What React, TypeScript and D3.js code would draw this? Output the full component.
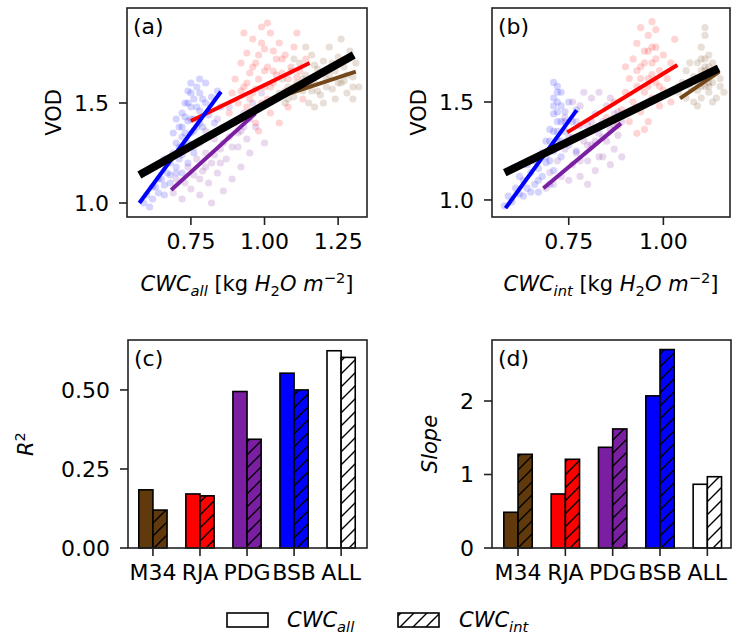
import React from 'react';
import * as d3 from 'd3';

type Pt = [number, number];

// ---------- data ----------
const sites = ['M34', 'RJA', 'PDG', 'BSB', 'ALL'];
const siteColors = ['#603a0c', '#ff0000', '#7b1fa2', '#0000ff', '#ffffff'];
const lineColors = ['#74481a', '#ff0000', '#7b1fa2', '#0000ff'];

const r2All = [0.184, 0.171, 0.495, 0.553, 0.624];
const r2Int = [0.12, 0.165, 0.344, 0.5, 0.603];
const slopeAll = [0.486, 0.735, 1.37, 2.07, 0.867];
const slopeInt = [1.275, 1.207, 1.62, 2.7, 0.97];

const vodTicks = [1.0, 1.5];
const cwcAllTicks = [0.75, 1.0, 1.25];
const cwcIntTicks = [0.75, 1.0];
const r2Ticks = [0, 0.25, 0.5];
const slopeTicks = [0, 1, 2];

// scatter clouds, panel (a): CWC_all vs VOD
const aM34: Pt[] = [[1.05,1.55],[1.06,1.62],[1.07,1.50],[1.08,1.58],[1.09,1.66],[1.10,1.53],[1.11,1.60],[1.12,1.70],[1.13,1.56],[1.14,1.64],[1.15,1.50],[1.16,1.74],[1.17,1.60],[1.18,1.67],[1.19,1.54],[1.20,1.71],[1.21,1.62],[1.22,1.78],[1.23,1.57],[1.24,1.66],[1.25,1.73],[1.26,1.60],[1.27,1.68],[1.28,1.55],[1.29,1.76],[1.30,1.63],[1.31,1.70],[1.32,1.58],[1.20,1.50],[1.26,1.82],[1.14,1.78],[1.10,1.72],[1.24,1.52],[1.17,1.48],[1.30,1.52],[1.08,1.52],[1.12,1.58],[1.16,1.56],[1.21,1.58],[1.27,1.61],[1.15,1.60],[1.18,1.56],[1.22,1.64],[1.25,1.60],[1.19,1.65],[1.23,1.70],[1.28,1.64],[1.13,1.62],[1.17,1.69],[1.30,1.58]];
const aRJA: Pt[] = [[0.88,1.45],[0.89,1.55],[0.90,1.62],[0.91,1.50],[0.92,1.70],[0.92,1.42],[0.93,1.58],[0.94,1.75],[0.94,1.48],[0.95,1.65],[0.96,1.82],[0.96,1.55],[0.97,1.40],[0.97,1.70],[0.98,1.62],[0.99,1.88],[0.99,1.50],[1.00,1.77],[1.00,1.58],[1.01,1.68],[1.02,1.45],[1.02,1.85],[1.03,1.60],[1.04,1.72],[1.04,1.52],[1.05,1.80],[1.06,1.65],[1.07,1.56],[1.07,1.74],[1.08,1.48],[1.09,1.68],[1.10,1.78],[1.10,1.58],[1.12,1.66],[1.13,1.52],[1.14,1.72],[1.15,1.60],[1.05,1.40],[0.98,1.36],[1.01,1.90],[0.93,1.85],[1.11,1.85],[0.95,1.52],[1.03,1.66],[0.96,1.68],[0.98,1.74],[1.00,1.66],[1.02,1.58],[1.04,1.64],[0.94,1.60],[0.97,1.57],[1.01,1.52],[1.06,1.72],[1.08,1.62],[0.99,1.80],[1.03,1.76],[0.92,1.56],[1.11,1.63]];
const aPDG: Pt[] = [[0.69,1.05],[0.70,1.12],[0.72,1.02],[0.73,1.10],[0.74,1.18],[0.75,1.07],[0.76,1.14],[0.77,1.22],[0.78,1.04],[0.78,1.30],[0.79,1.16],[0.80,1.25],[0.81,1.10],[0.82,1.20],[0.83,1.32],[0.84,1.15],[0.85,1.27],[0.86,1.38],[0.87,1.22],[0.88,1.33],[0.89,1.12],[0.90,1.40],[0.91,1.28],[0.92,1.36],[0.93,1.45],[0.94,1.32],[0.95,1.42],[0.96,1.50],[0.97,1.38],[0.98,1.47],[0.99,1.55],[0.86,1.06],[0.80,1.36],[0.84,1.42],[0.92,1.18],[0.95,1.25],[0.88,1.48],[0.76,1.28],[0.82,1.00],[1.00,1.30],[0.80,1.18],[0.83,1.24],[0.86,1.30],[0.89,1.28],[0.78,1.12],[0.91,1.35],[0.85,1.20],[0.93,1.38]];
const aBSB: Pt[] = [[0.59,1.00],[0.60,1.04],[0.62,1.02],[0.63,1.08],[0.64,1.05],[0.65,1.12],[0.66,1.09],[0.67,1.15],[0.68,1.10],[0.68,1.20],[0.69,1.25],[0.70,1.18],[0.70,1.30],[0.71,1.38],[0.71,1.22],[0.72,1.45],[0.72,1.33],[0.73,1.27],[0.73,1.50],[0.74,1.41],[0.74,1.56],[0.75,1.35],[0.75,1.48],[0.76,1.52],[0.76,1.42],[0.77,1.58],[0.77,1.30],[0.78,1.46],[0.78,1.55],[0.79,1.38],[0.80,1.50],[0.80,1.60],[0.81,1.44],[0.82,1.53],[0.83,1.40],[0.84,1.56],[0.85,1.48],[0.74,1.20],[0.76,1.25],[0.72,1.15],[0.69,1.35],[0.70,1.42],[0.66,1.22],[0.78,1.62],[0.75,1.60],[0.71,1.28],[0.72,1.38],[0.73,1.43],[0.74,1.30],[0.75,1.42],[0.76,1.36],[0.77,1.48],[0.78,1.40],[0.79,1.52],[0.73,1.35],[0.75,1.55],[0.77,1.38],[0.74,1.50],[0.72,1.24],[0.70,1.15],[0.68,1.14],[0.66,1.04],[0.64,1.12],[0.62,1.08],[0.61,0.98]];

// scatter clouds, panel (b): CWC_int vs VOD
const bM34: Pt[] = [[1.04,1.55],[1.05,1.60],[1.06,1.52],[1.06,1.66],[1.07,1.58],[1.08,1.50],[1.08,1.63],[1.09,1.70],[1.09,1.56],[1.10,1.78],[1.10,1.62],[1.10,1.52],[1.11,1.84],[1.11,1.68],[1.11,1.58],[1.12,1.74],[1.12,1.55],[1.12,1.64],[1.13,1.60],[1.13,1.70],[1.14,1.52],[1.14,1.66],[1.15,1.58],[1.15,1.62],[1.16,1.55],[1.11,1.88],[1.07,1.70],[1.13,1.50],[1.09,1.48],[1.10,1.72],[1.11,1.62],[1.12,1.58],[1.10,1.58],[1.11,1.66],[1.12,1.60],[1.10,1.66],[1.11,1.72],[1.13,1.64],[1.09,1.60],[1.12,1.68]];
const bRJA: Pt[] = [[0.85,1.42],[0.87,1.50],[0.88,1.38],[0.89,1.46],[0.90,1.55],[0.91,1.40],[0.91,1.62],[0.92,1.50],[0.92,1.72],[0.93,1.58],[0.93,1.80],[0.94,1.45],[0.94,1.68],[0.94,1.88],[0.95,1.55],[0.95,1.76],[0.96,1.62],[0.96,1.84],[0.96,1.40],[0.97,1.70],[0.97,1.52],[0.97,1.91],[0.98,1.60],[0.98,1.78],[0.99,1.48],[0.99,1.66],[1.00,1.56],[1.00,1.74],[1.01,1.62],[1.02,1.50],[1.02,1.70],[1.03,1.82],[1.04,1.58],[0.95,1.36],[0.93,1.34],[0.98,1.87],[0.90,1.68],[0.94,1.62],[0.95,1.70],[0.96,1.58],[0.97,1.64],[0.98,1.72],[0.95,1.48],[0.97,1.78],[0.93,1.66],[0.96,1.76],[0.99,1.58]];
const bPDG: Pt[] = [[0.69,1.06],[0.70,1.14],[0.71,1.08],[0.72,1.20],[0.73,1.12],[0.74,1.26],[0.75,1.10],[0.75,1.32],[0.76,1.18],[0.77,1.40],[0.77,1.24],[0.78,1.12],[0.78,1.48],[0.79,1.30],[0.80,1.20],[0.80,1.38],[0.81,1.52],[0.81,1.28],[0.82,1.15],[0.82,1.44],[0.83,1.34],[0.83,1.55],[0.84,1.22],[0.84,1.40],[0.85,1.48],[0.85,1.30],[0.86,1.18],[0.86,1.52],[0.87,1.38],[0.87,1.26],[0.88,1.45],[0.88,1.33],[0.89,1.40],[0.89,1.22],[0.80,1.08],[0.74,1.42],[0.76,1.50],[0.79,1.55],[0.80,1.28],[0.82,1.30],[0.84,1.32],[0.86,1.36],[0.83,1.22],[0.81,1.40],[0.78,1.20],[0.87,1.44]];
const bBSB: Pt[] = [[0.58,0.97],[0.59,1.02],[0.60,0.99],[0.61,1.06],[0.62,1.03],[0.63,1.10],[0.64,1.06],[0.65,1.14],[0.66,1.08],[0.66,1.20],[0.67,1.16],[0.68,1.24],[0.68,1.12],[0.69,1.30],[0.69,1.19],[0.70,1.36],[0.70,1.25],[0.71,1.44],[0.71,1.15],[0.71,1.52],[0.72,1.30],[0.72,1.58],[0.72,1.40],[0.73,1.48],[0.73,1.22],[0.73,1.55],[0.74,1.35],[0.74,1.45],[0.75,1.28],[0.75,1.50],[0.76,1.40],[0.76,1.32],[0.77,1.46],[0.77,1.25],[0.78,1.38],[0.64,1.18],[0.62,1.12],[0.67,1.04],[0.70,1.08],[0.72,1.50],[0.71,1.60],[0.71,1.35],[0.72,1.45],[0.72,1.35],[0.71,1.25],[0.73,1.40],[0.70,1.20],[0.72,1.55],[0.71,1.48],[0.73,1.30],[0.70,1.30],[0.74,1.40],[0.69,1.22],[0.67,1.10],[0.65,1.04],[0.63,1.02]];

// regression line end points [x0, y0, x1, y1]
const aFitM34 = [1.03, 1.521, 1.31, 1.657];
const aFitRJA = [0.75, 1.41, 1.153, 1.70];
const aFitPDG = [0.683, 1.065, 0.969, 1.448];
const aFitBSB = [0.575, 1.0, 0.852, 1.556];
const aFitALL = [0.575, 1.14, 1.303, 1.74];

const bFitM34 = [1.044, 1.519, 1.148, 1.655];
const bFitRJA = [0.746, 1.345, 1.037, 1.689];
const bFitPDG = [0.683, 1.06, 0.888, 1.391];
const bFitBSB = [0.583, 0.958, 0.771, 1.459];
const bFitALL = [0.581, 1.139, 1.146, 1.672];

// ---------- drawing helpers ----------
const FONT = 'DejaVu Sans, sans-serif';
const TICK = 22;
const LAB = 21;

type Part = { t: string; it?: boolean; pos?: 'sub' | 'sup' };

function Rich({ x, y, parts, size, anchor = 'middle', rotate = false }:
  { x: number; y: number; parts: Part[]; size: number; anchor?: string; rotate?: boolean }) {
  let cur = 0;
  const spans = parts.map((p, i) => {
    const target = p.pos === 'sub' ? size * 0.22 : p.pos === 'sup' ? -size * 0.4 : 0;
    const dy = target - cur;
    cur = target;
    return (
      <tspan key={i} dy={dy} fontStyle={p.it ? 'italic' : 'normal'} fontSize={p.pos ? size * 0.7 : size}>
        {p.t}
      </tspan>
    );
  });
  return (
    <text x={x} y={y} textAnchor={anchor as any} fontFamily={FONT} fontSize={size} fill="#000"
      style={{ whiteSpace: 'pre' }} transform={rotate ? `rotate(-90 ${x} ${y})` : undefined}>
      {spans}
    </text>
  );
}

interface Box { left: number; right: number; top: number; bottom: number }

function Frame({ b }: { b: Box }) {
  return <rect x={b.left} y={b.top} width={b.right - b.left} height={b.bottom - b.top}
    fill="none" stroke="#222" strokeWidth={1.6} />;
}

function YTicks({ b, y, ticks, fmt }: { b: Box; y: d3.ScaleLinear<number, number>; ticks: number[]; fmt: (v: number) => string }) {
  return (
    <g>
      {ticks.map((t, i) => (
        <g key={i}>
          <line x1={b.left - 8} x2={b.left} y1={y(t)} y2={y(t)} stroke="#222" strokeWidth={1.6} />
          <text x={b.left - 18} y={y(t)} dy="0.36em" textAnchor="end" fontFamily={FONT} fontSize={TICK}>{fmt(t)}</text>
        </g>
      ))}
    </g>
  );
}

function XTicks({ b, x, ticks, labels }: { b: Box; x: (v: number) => number; ticks: number[]; labels: string[] }) {
  return (
    <g>
      {ticks.map((t, i) => (
        <g key={i}>
          <line x1={x(t)} x2={x(t)} y1={b.bottom} y2={b.bottom + 8} stroke="#222" strokeWidth={1.6} />
          <text x={x(t)} y={b.bottom + 32} textAnchor="middle" fontFamily={FONT} fontSize={TICK}>{labels[i]}</text>
        </g>
      ))}
    </g>
  );
}

function ScatterPanel({ b, xDom, yDom, clouds, fits, xTicks, letter, sub }:
  { b: Box; xDom: number[]; yDom: number[]; clouds: Pt[][]; fits: number[][]; xTicks: number[]; letter: string; sub: string }) {
  const x = d3.scaleLinear().domain(xDom).range([b.left, b.right]);
  const y = d3.scaleLinear().domain(yDom).range([b.bottom, b.top]);
  const line = d3.line<Pt>().x(d => x(d[0])).y(d => y(d[1]));
  const clipId = 'clip' + letter;
  return (
    <g>
      <defs>
        <clipPath id={clipId}><rect x={b.left} y={b.top} width={b.right - b.left} height={b.bottom - b.top} /></clipPath>
      </defs>
      <g clipPath={`url(#${clipId})`}>
        {clouds.map((c, ci) => (
          <g key={ci} fill={lineColors[ci]} fillOpacity={0.17}>
            {c.map((p, pi) => <circle key={pi} cx={x(p[0])} cy={y(p[1])} r={3.6} />)}
          </g>
        ))}
        {fits.map((f, fi) => (
          <path key={fi} d={line([[f[0], f[1]], [f[2], f[3]]]) || ''} fill="none"
            stroke={fi < 4 ? lineColors[fi] : '#000'} strokeWidth={fi < 4 ? 4 : 8} strokeLinecap="butt" />
        ))}
      </g>
      <Frame b={b} />
      <YTicks b={b} y={y} ticks={vodTicks} fmt={d3.format('.1f')} />
      <XTicks b={b} x={x} ticks={xTicks} labels={xTicks.map(d3.format('.2f'))} />
      <text x={b.left + 6} y={b.top + 26} fontFamily={FONT} fontSize={TICK}>({letter})</text>
      <Rich x={b.left - 66} y={(b.top + b.bottom) / 2} rotate size={LAB} parts={[{ t: 'VOD' }]} />
      <Rich x={(b.left + b.right) / 2} y={b.bottom + 74} size={LAB} parts={[
        { t: 'CWC', it: true }, { t: sub, it: true, pos: 'sub' }, { t: ' [kg ' },
        { t: 'H', it: true }, { t: '2', pos: 'sub' }, { t: 'O', it: true }, { t: ' ' },
        { t: 'm', it: true }, { t: '\u22122', pos: 'sup' }, { t: ']' },
      ]} />
    </g>
  );
}

function BarPanel({ b, xDom, yDom, valsAll, valsInt, yTicks, fmt, letter, ylabel, ylabelX }:
  { b: Box; xDom: number[]; yDom: number[]; valsAll: number[]; valsInt: number[]; yTicks: number[]; fmt: (v: number) => string; letter: string; ylabel: Part[]; ylabelX: number }) {
  const x = d3.scaleLinear().domain(xDom).range([b.left, b.right]);
  const y = d3.scaleLinear().domain(yDom).range([b.bottom, b.top]);
  const w = 0.3;
  const idx = sites.map((_, i) => i);
  return (
    <g>
      {idx.map(i => (
        <g key={i}>
          <rect x={x(i - w)} y={y(valsAll[i])} width={x(i) - x(i - w)} height={y(0) - y(valsAll[i])}
            fill={siteColors[i]} stroke="#000" strokeWidth={1.6} />
          <rect x={x(i)} y={y(valsInt[i])} width={x(i + w) - x(i)} height={y(0) - y(valsInt[i])}
            fill={siteColors[i]} />
          <rect x={x(i)} y={y(valsInt[i])} width={x(i + w) - x(i)} height={y(0) - y(valsInt[i])}
            fill="url(#hatch)" stroke="#000" strokeWidth={1.6} />
        </g>
      ))}
      <Frame b={b} />
      <YTicks b={b} y={y} ticks={yTicks} fmt={fmt} />
      <XTicks b={b} x={x} ticks={idx} labels={sites} />
      <text x={b.left + 6} y={b.top + 26} fontFamily={FONT} fontSize={TICK}>({letter})</text>
      <Rich x={ylabelX} y={(b.top + b.bottom) / 2} rotate size={LAB} parts={ylabel} />
    </g>
  );
}

export default function App() {
  const boxA: Box = { left: 127, right: 367, top: 8, bottom: 217 };
  const boxB: Box = { left: 492, right: 730, top: 8, bottom: 217 };
  const boxC: Box = { left: 128, right: 367, top: 340, bottom: 548 };
  const boxD: Box = { left: 492, right: 731, top: 340, bottom: 548 };
  return (
    <svg width={734} height={639} style={{ position: 'absolute', left: 0, top: 0, background: '#fff' }}>
      <defs>
        <pattern id="hatch" patternUnits="userSpaceOnUse" width={13} height={13}>
          <path d="M-2,2 L2,-2 M0,13 L13,0 M11,15 L15,11" stroke="#000" strokeWidth={1.4} />
        </pattern>
      </defs>
      <rect width={734} height={639} fill="#fff" />
      <ScatterPanel b={boxA} xDom={[0.533, 1.348]} yDom={[0.93, 1.975]}
        clouds={[aM34, aRJA, aPDG, aBSB]} fits={[aFitM34, aFitRJA, aFitPDG, aFitBSB, aFitALL]}
        xTicks={cwcAllTicks} letter="a" sub="all" />
      <ScatterPanel b={boxB} xDom={[0.5473, 1.176]} yDom={[0.913, 1.98]}
        clouds={[bM34, bRJA, bPDG, bBSB]} fits={[bFitM34, bFitRJA, bFitPDG, bFitBSB, bFitALL]}
        xTicks={cwcIntTicks} letter="b" sub="int" />
      <BarPanel b={boxC} xDom={[-0.53, 4.55]} yDom={[0, 0.658]} valsAll={r2All} valsInt={r2Int}
        yTicks={r2Ticks} fmt={d3.format('.2f')} letter="c" ylabelX={33}
        ylabel={[{ t: 'R', it: true }, { t: '2', pos: 'sup' }]} />
      <BarPanel b={boxD} xDom={[-0.55, 4.5]} yDom={[0, 2.83]} valsAll={slopeAll} valsInt={slopeInt}
        yTicks={slopeTicks} fmt={d3.format('d')} letter="d" ylabelX={437}
        ylabel={[{ t: 'Slope', it: true }]} />
      {/* legend */}
      <g>
        <rect x={227} y={613} width={41} height={14} fill="#fff" stroke="#000" strokeWidth={1.6} />
        <Rich x={287} y={627} anchor="start" size={LAB} parts={[{ t: 'CWC', it: true }, { t: 'all', it: true, pos: 'sub' }]} />
        <rect x={398} y={613} width={41} height={14} fill="url(#hatch)" stroke="#000" strokeWidth={1.6} />
        <Rich x={459} y={627} anchor="start" size={LAB} parts={[{ t: 'CWC', it: true }, { t: 'int', it: true, pos: 'sub' }]} />
      </g>
    </svg>
  );
}
